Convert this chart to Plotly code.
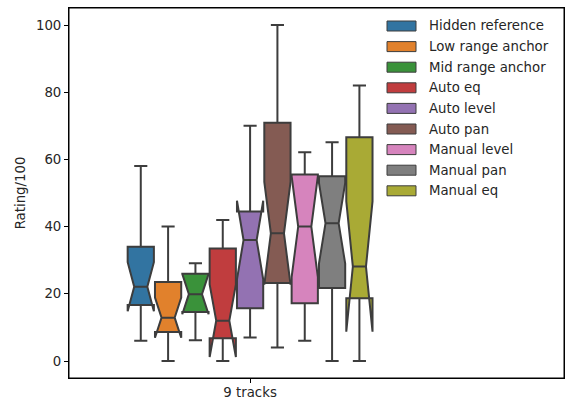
import plotly.graph_objects as go

categories = ["9 tracks"]
conditions = ["Hidden reference", "Low range anchor", "Mid range anchor", "Auto eq",
              "Auto level", "Auto pan", "Manual level", "Manual pan", "Manual eq"]
colors = ["#3274a1", "#e1812c", "#3a923a", "#c03d3e", "#9372b2",
          "#845b53", "#d684bd", "#7f7f7f", "#a9aa35"]
lower_whisker = [6.0, 0.0, 6.2, 0.0, 7.0, 4.0, 6.0, 0.0, 0.0]
q1_vals = [16.7, 8.6, 14.6, 6.8, 15.7, 23.2, 17.2, 21.7, 18.7]
medians = [22.1, 12.9, 19.9, 12.0, 36.0, 38.0, 40.0, 41.0, 28.1]
q3_vals = [34.0, 23.5, 26.0, 33.5, 44.5, 70.9, 55.5, 55.0, 66.6]
upper_whisker = [58.0, 40.0, 29.1, 42.0, 70.0, 100.0, 62.1, 65.1, 82.0]
notch_spans = [7.3, 6.0, 6.0, 10.8, 11.7, 15.3, 15.0, 12.0, 19.4]
yticks = [0, 20, 40, 60, 80, 100]

fig = go.Figure()
for i, name in enumerate(conditions):
    fig.add_trace(go.Box(
        name=name,
        x=categories,
        q1=[q1_vals[i]], median=[medians[i]], q3=[q3_vals[i]],
        lowerfence=[lower_whisker[i]], upperfence=[upper_whisker[i]],
        notchspan=[notch_spans[i]],
        notched=True, notchwidth=0.25, whiskerwidth=0.5,
        fillcolor=colors[i],
        line=dict(color="#3d3d3d", width=2),
        boxpoints=False,
        showlegend=False,
        hoverinfo="skip",
    ))

# axes frame (all four spines)
fig.add_shape(type="rect", xref="paper", yref="paper", x0=0, x1=1, y0=0, y1=1,
              line=dict(color="black", width=1), fillcolor="rgba(0,0,0,0)", layer="above")

# custom legend (matplotlib style wide patches)
pw, ph = 495.0, 370.0
x0p, x1p, xt = (387 - 69) / pw, (416 - 69) / pw, (427 - 69) / pw
for i, name in enumerate(conditions):
    yc = 26 + i * 20.6
    yp = (378 - yc) / ph
    fig.add_shape(type="rect", xref="paper", yref="paper",
                  x0=x0p, x1=x1p, y0=yp - 5 / ph, y1=yp + 5 / ph,
                  fillcolor=colors[i], line=dict(color="#3d3d3d", width=1))
    fig.add_annotation(xref="paper", yref="paper", x=xt, y=yp, text=name,
                       showarrow=False, xanchor="left", yanchor="middle",
                       font=dict(size=13.3, color="#262626"))

fig.update_layout(
    width=571, height=400,
    margin=dict(l=69, r=7, t=8, b=22),
    paper_bgcolor="white", plot_bgcolor="white",
    boxmode="group", boxgap=0.2, boxgroupgap=0.04,
    font=dict(family="DejaVu Sans", size=13.3, color="#262626"),
    showlegend=False,
)
fig.update_xaxes(type="category", range=[-0.589, 1.021], showgrid=False,
                 showline=True, linecolor="black", linewidth=1, mirror=True,
                 ticks="outside", ticklen=4, tickcolor="black", zeroline=False,
                 automargin=False, tickfont=dict(size=13.3), ticklabelstandoff=-2)
fig.update_yaxes(range=[-5.06, 105.06], tickvals=yticks, showgrid=False,
                 showline=True, linecolor="black", linewidth=1, mirror=True,
                 ticks="outside", ticklen=4, tickcolor="black", zeroline=False,
                 automargin=False, tickfont=dict(size=13.3),
                 title=dict(text="Rating/100", standoff=7, font=dict(size=13.3)))

fig.write_html("out.html", config={"displayModeBar": False},
               post_script="document.body.style.margin='0';document.body.style.overflow='hidden';")
